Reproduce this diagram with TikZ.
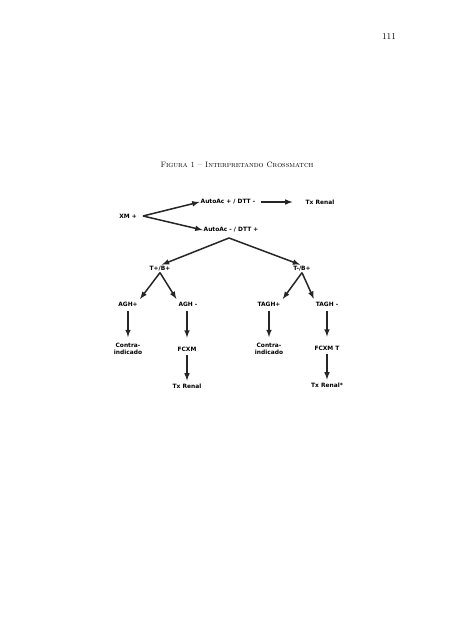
\documentclass[tikz,border=0pt]{standalone}
\usepackage{fontspec}
\newfontfamily\boxfont{DejaVu Sans}
\usetikzlibrary{arrows}

\begin{document}
\begin{tikzpicture}[x=1pt,y=-1pt,
  lbl/.style={font=\boxfont\bfseries\fontsize{5.9}{7}\selectfont, inner sep=1pt, align=center},
  arr/.style={line width=1.5pt, black!85, -latex}]
\useasboundingbox (0,0) rectangle (452,640);
\node (pg) at (389,37) {\fontsize{9}{10}\selectfont 111};
\node (tit) at (237,165) {\fontsize{7.8}{9}\selectfont\textsc{Figura 1 -- Interpretando Crossmatch}};
% root
\node [lbl] (xm) at (128,216) {XM +};
\node [lbl] (ap) at (228,202) {AutoAc + / DTT -};
\node [lbl] (tx0) at (320,202) {Tx Renal};
\node [lbl] (am) at (231,230) {AutoAc - / DTT +};
\coordinate (xs) at (143,216);
\coordinate (top) at (229,238);
\draw [arr] (xs) -- (ap.west);
\draw [arr] (xs) -- (am.west);
\draw [arr, shorten <=5pt, shorten >=12pt] (ap.east) -- (tx0.west);
% second level
\node [lbl] (tb1) at (160,269) {T+/B+};
\node [lbl] (tb2) at (302,269) {T-/B+};
\draw [arr, shorten >=2pt] (top) -- (tb1.north);
\draw [arr, shorten >=2pt] (top) -- (tb2.north);
\node [lbl] (agh1) at (128,304) {AGH+};
\node [lbl] (agh2) at (188,304) {AGH -};
\node [lbl] (tagh1) at (269,304) {TAGH+};
\node [lbl] (tagh2) at (327,304) {TAGH -};
\draw [arr, shorten >=2pt] (tb1.south) -- (agh1.north east);
\draw [arr, shorten >=2pt] (tb1.south) -- (agh2.north west);
\draw [arr, shorten >=2pt] (tb2.south) -- (tagh1.north east);
\draw [arr, shorten >=2pt] (tb2.south) -- (tagh2.north west);
% leaves
\node [lbl] (ci1) at (128,349) {Contra-\\indicado};
\node [lbl] (fc1) at (187,349) {FCXM};
\node [lbl] (ci2) at (269,349) {Contra-\\indicado};
\node [lbl] (fc2) at (327,348) {FCXM T};
\draw [arr, shorten <=4pt, shorten >=5pt] (agh1.south) -- (agh1.south |- ci1.north);
\draw [arr, shorten <=4pt, shorten >=8pt] (agh2.south -| fc1.north) -- (fc1.north);
\draw [arr, shorten <=4pt, shorten >=5pt] (tagh1.south -| ci2.north) -- (ci2.north);
\draw [arr, shorten <=4pt, shorten >=8pt] (tagh2.south -| fc2.north) -- (fc2.north);
\node [lbl] (tx1) at (187,386) {Tx Renal};
\node [lbl] (tx2) at (327,385) {Tx Renal*};
\draw [arr, shorten <=3pt, shorten >=2pt] (fc1.south) -- (tx1.north);
\draw [arr, shorten <=3pt, shorten >=2pt] (fc2.south) -- (fc2.south |- tx2.north);
\end{tikzpicture}
\end{document}
